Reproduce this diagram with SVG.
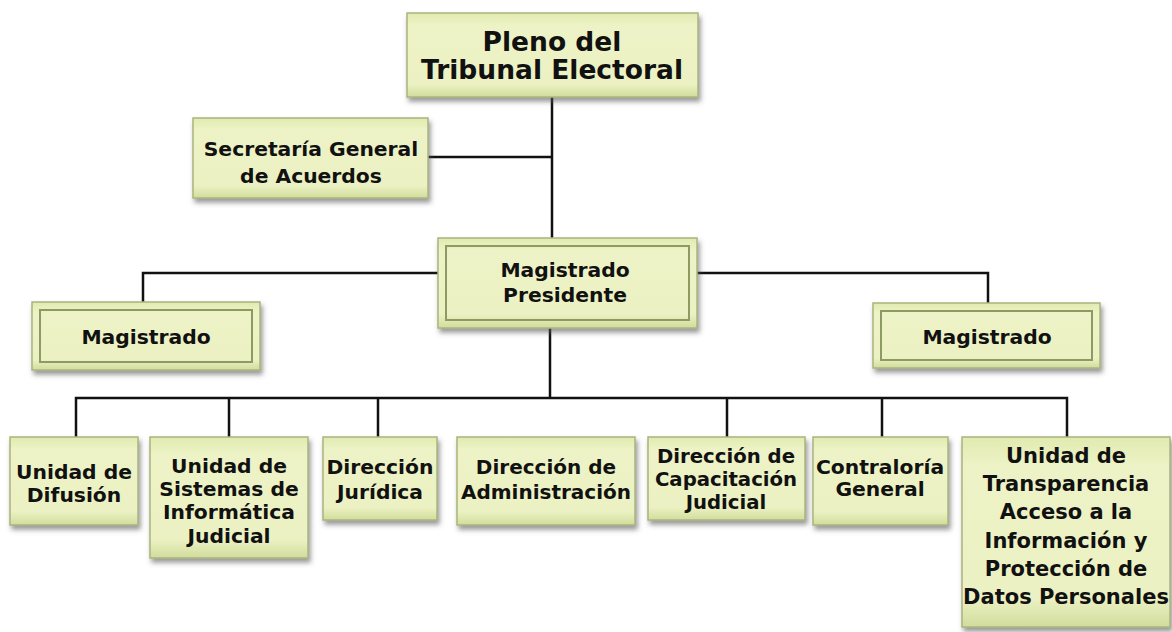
<svg xmlns="http://www.w3.org/2000/svg" width="1172" height="632" viewBox="0 0 1172 632">
<defs>
<linearGradient id="g" x1="0" y1="0" x2="0" y2="1">
<stop offset="0" stop-color="#e1eab0"/>
<stop offset="0.15" stop-color="#edf3c6"/>
<stop offset="0.85" stop-color="#ebf1c2"/>
<stop offset="1" stop-color="#d1dc9c"/>
</linearGradient>
<filter id="sh" x="-10%" y="-10%" width="120%" height="130%">
<feDropShadow dx="2" dy="4" stdDeviation="2.5" flood-color="#555" flood-opacity="0.6"/>
</filter>
<style>
.box{fill:url(#g);stroke:#aab47c;stroke-width:1.5;filter:url(#sh)}
.frame{fill:none;stroke:#8d9a64;stroke-width:2}
.t{font-family:"DejaVu Sans",sans-serif;font-weight:bold;fill:#111;text-anchor:middle;font-size:20.3px}
.line{stroke:#111;stroke-width:2.5;fill:none}
</style>
</defs>
<rect width="1172" height="632" fill="#fff"/>
<g id="connectors">
<path class="line" d="M552 97V238M428 157H552"/>
<path class="line" d="M143 302V273H988V303"/>
<path class="line" d="M550 328V398"/>
<path class="line" d="M76 437V398H1067V437"/>
<path class="line" d="M229 398V437M378 398V437M727 398V437M882 398V437"/>
</g>
<g id="pleno">
<rect class="box" x="407" y="13" width="291" height="84"/>
<text class="t" x="552" y="51" style="font-size:26.5px">Pleno del</text>
<text class="t" x="552" y="79" style="font-size:26.5px">Tribunal Electoral</text>
</g>
<g id="secretaria">
<rect class="box" x="193" y="118" width="235" height="80"/>
<text class="t" x="311" y="156">Secretaría General</text>
<text class="t" x="311" y="183">de Acuerdos</text>
</g>
<g id="presidente">
<rect class="box" x="438" y="238" width="259" height="90"/>
<rect class="frame" x="446" y="246" width="243" height="74"/>
<text class="t" x="565" y="277">Magistrado</text>
<text class="t" x="565" y="302">Presidente</text>
</g>
<g id="magistrado-izq">
<rect class="box" x="32" y="302" width="228" height="68"/>
<rect class="frame" x="40" y="310" width="212" height="52"/>
<text class="t" x="146" y="344">Magistrado</text>
</g>
<g id="magistrado-der">
<rect class="box" x="873" y="303" width="227" height="65"/>
<rect class="frame" x="881" y="311" width="211" height="49"/>
<text class="t" x="987" y="344">Magistrado</text>
</g>
<g id="difusion">
<rect class="box" x="10" y="437" width="128" height="88"/>
<text class="t" x="74" y="479">Unidad de</text>
<text class="t" x="74" y="502">Difusión</text>
</g>
<g id="sistemas">
<rect class="box" x="150" y="437" width="158" height="121"/>
<text class="t" x="229" y="473">Unidad de</text>
<text class="t" x="229" y="496">Sistemas de</text>
<text class="t" x="229" y="519">Informática</text>
<text class="t" x="229" y="543">Judicial</text>
</g>
<g id="juridica">
<rect class="box" x="323" y="437" width="114" height="83"/>
<text class="t" x="380" y="474">Dirección</text>
<text class="t" x="380" y="499">Jurídica</text>
</g>
<g id="administracion">
<rect class="box" x="457" y="437" width="178" height="88"/>
<text class="t" x="546" y="474" style="font-size:20px">Dirección de</text>
<text class="t" x="546" y="499" style="font-size:20px">Administración</text>
</g>
<g id="capacitacion">
<rect class="box" x="648" y="437" width="157" height="83"/>
<text class="t" x="726" y="463" style="font-size:19.7px">Dirección de</text>
<text class="t" x="726" y="486" style="font-size:19.7px">Capacitación</text>
<text class="t" x="726" y="509" style="font-size:19.7px">Judicial</text>
</g>
<g id="contraloria">
<rect class="box" x="813" y="437" width="135" height="88"/>
<text class="t" x="880" y="474">Contraloría</text>
<text class="t" x="880" y="496">General</text>
</g>
<g id="transparencia">
<rect class="box" x="962" y="437" width="208" height="190"/>
<text class="t" x="1066" y="463" style="font-size:21px">Unidad de</text>
<text class="t" x="1066" y="491" style="font-size:21px">Transparencia</text>
<text class="t" x="1066" y="519" style="font-size:21px">Acceso a la</text>
<text class="t" x="1066" y="548" style="font-size:21px">Información y</text>
<text class="t" x="1066" y="576" style="font-size:21px">Protección de</text>
<text class="t" x="1066" y="604" style="font-size:21px">Datos Personales</text>
</g>
</svg>
